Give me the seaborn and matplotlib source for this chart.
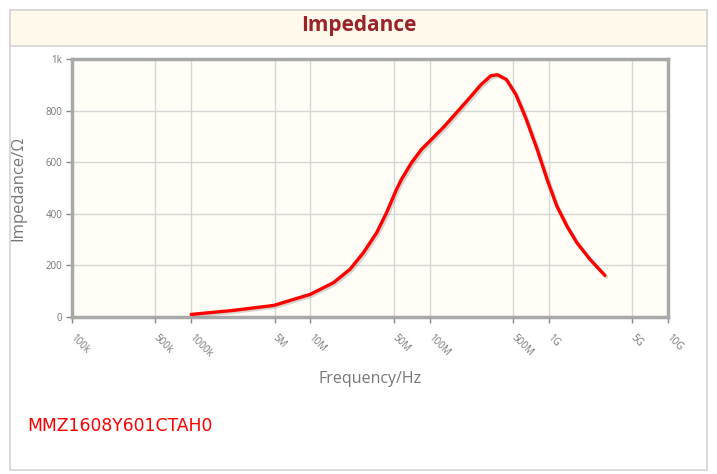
import numpy as np
import pandas as pd
import seaborn as sns
import matplotlib.pyplot as plt
from matplotlib.patches import Rectangle
import matplotlib.patheffects as pe

# Impedance curve (frequency in Hz, impedance in ohm)
freq_hz = [1.0e6, 2.3e6, 4.94e6, 1.0e7, 1.56e7, 2.15e7, 2.78e7, 3.59e7,
           4.35e7, 5.27e7, 5.8e7, 7.03e7, 8.52e7, 1.03e8, 1.33e8, 1.72e8,
           2.22e8, 2.69e8, 3.26e8, 3.71e8, 4.4e8, 5.3e8, 6.4e8, 8.0e8,
           9.68e8, 1.17e9, 1.42e9, 1.72e9, 2.22e9, 2.96e9]
impedance = [10, 26, 45, 88, 133, 185, 249, 326,
             404, 494, 533, 597, 649, 687, 739, 797,
             855, 900, 935, 939, 921, 862, 772, 649,
             533, 429, 352, 288, 223, 161]

x_ticks = [1e5, 5e5, 1e6, 5e6, 1e7, 5e7, 1e8, 5e8, 1e9, 5e9, 1e10]
x_labels = ['100k', '500k', '1000k', '5M', '10M', '50M', '100M', '500M', '1G', '5G', '10G']
y_ticks = [0, 200, 400, 600, 800, 1000]
y_labels = ['0', '200', '400', '600', '800', '1k']

df = pd.DataFrame({'freq': freq_hz, 'z': impedance})

sns.set_theme(style="white")
plt.rcParams['font.family'] = ['Open Sans', 'DejaVu Sans']

fig = plt.figure(figsize=(7.17, 4.74), dpi=100)
W, H = 717, 474

# outer frame and title band (behind the axes)
fig.patches.append(Rectangle((10 / W, 1 - 470 / H), 697 / W, 460 / H, transform=fig.transFigure,
                             facecolor='white', edgecolor='#d4d4d4', lw=1.2, zorder=-2))
fig.patches.append(Rectangle((10 / W, 1 - 46 / H), 697 / W, 36 / H, transform=fig.transFigure,
                             facecolor='#fff9ec', edgecolor='#d4d4d4', lw=1.2, zorder=-1))
fig.text(359 / W, 1 - 25 / H, 'Impedance', ha='center', va='center', fontsize=15,
         fontweight='bold', color='#9b2226')

ax = fig.add_axes([72 / W, 1 - 317 / H, 596 / W, 258 / H])
ax.set_zorder(1)
ax.set_facecolor('#fffdf5')

sns.lineplot(data=df, x='freq', y='z', ax=ax, color='#ff0000', lw=2.4, zorder=5,
             path_effects=[pe.SimpleLineShadow(offset=(1.2, -1.2), shadow_color='#888888', alpha=0.35),
                           pe.Normal()])

ax.set_xscale('log')
ax.set_xlim(1e5, 1e10)
ax.set_ylim(0, 1000)
ax.set_xticks(x_ticks)
ax.set_xticklabels(x_labels, rotation=-45, ha='left', va='center', rotation_mode='anchor')
ax.minorticks_off()
ax.set_yticks(y_ticks)
ax.set_yticklabels(y_labels)
ax.tick_params(axis='both', colors='#888888', labelsize=7, length=4, width=1, direction='out',
               bottom=True, left=True, pad=3)
ax.tick_params(axis='x', pad=10)
for lab in ax.get_xticklabels() + ax.get_yticklabels():
    lab.set_color('#777777')
ax.grid(True, color='#d6d6d6', lw=1)
for s in ax.spines.values():
    s.set_color('#a8a8a8')
    s.set_linewidth(2.5)

ax.set_xlabel('Frequency/Hz', fontsize=11.5, color='#777777')
ax.set_ylabel('Impedance/Ω', fontsize=12, color='#777777')
ax.xaxis.set_label_coords((370 - 72) / 596, -(371 - 317) / 258)
ax.yaxis.set_label_coords(-(72 - 26) / 596, 0.5)

fig.text(27 / W, 1 - 426 / H, 'MMZ1608Y601CTAH0', ha='left', va='center', fontsize=12.4,
         color='#ff0000', family='DejaVu Sans')

fig.savefig('out.png', dpi=100)
